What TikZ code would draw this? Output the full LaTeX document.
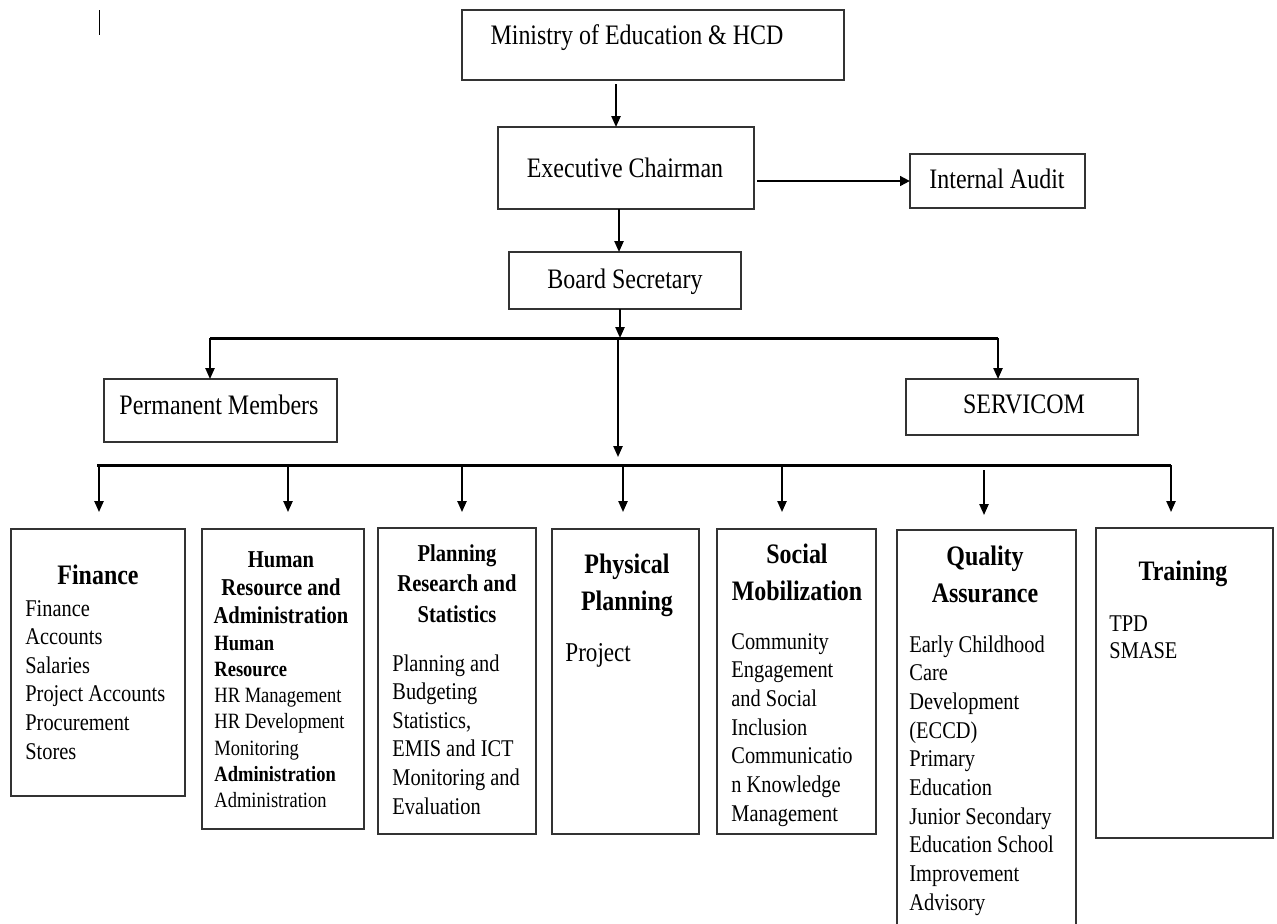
\documentclass[tikz,border=0pt]{standalone}
\usepackage{fontspec}
\setmainfont{Liberation Serif}[FakeStretch=0.85]
\usetikzlibrary{arrows.meta,fit}
\tikzset{
  box/.style={draw=black!80, line width=0.65pt, inner sep=0pt, outer sep=0pt},
  conn/.style={draw=black, line width=0.9pt, -{Triangle[length=5.5pt,width=4.6pt]}},
  thickconn/.style={draw=black, line width=1.4pt, -{Triangle[length=5pt,width=4.8pt]}},
  bar/.style={draw=black, line width=1.5pt},
  ttext/.style={font=\fontsize{14.1}{16}\selectfont, anchor=base, inner sep=0pt},
  hbig/.style={font=\fontsize{14.1}{16}\selectfont\bfseries, inner sep=0pt},
  hsmall/.style={font=\fontsize{12.1}{14}\selectfont\bfseries, inner sep=0pt},
  body/.style={font=\fontsize{12}{14}\selectfont, inner sep=0pt},
  bodyhr/.style={font=\fontsize{10.9}{13}\selectfont, inner sep=0pt},
  bodypp/.style={font=\fontsize{13.6}{15}\selectfont, inner sep=0pt},
}
\newcommand\mybox[5]{%
  \coordinate (#1-a) at (#2,#3);
  \coordinate (#1-b) at (#4,#5);
  \node[box, fit=(#1-a)(#1-b)] (#1) {};
}
\newcommand\deptlines[6]{%
  \foreach \t [count=\i] in {#6}
    \node[#5, anchor=base west] (#1-\i) at ({#2},{#3+(\i-1)*#4}) {\t};
}
\newcommand\headlines[6]{%
  \foreach \t [count=\i] in {#6}
    \node[#5, anchor=base] (#1-\i) at ({#2},{#3+(\i-1)*#4}) {\t};
}
\begin{document}
\begin{tikzpicture}[x=0.5pt,y=-0.5pt]
\useasboundingbox (0,0) rectangle (1277,923);
\clip (0,0) rectangle (1277,923);
\fill[white] (0,0) rectangle (1277,923);

% stray cursor mark
\coordinate (cur-a) at (99,10);
\coordinate (cur-b) at (99,35);
\draw[black, line width=0.5pt] (cur-a) -- (cur-b);

% top boxes
\mybox{min}{462}{10}{844}{80}
\mybox{exe}{498}{127}{754}{209}
\mybox{aud}{910}{154}{1085}{208}
\mybox{bsec}{509}{252}{741}{309}
\mybox{perm}{104}{379}{337}{442}
\mybox{serv}{906}{379}{1138}{435}

\node[ttext] (min-t) at (637,44) {Ministry of Education \& HCD};
\node[ttext] (exe-t) at (625,177) {Executive Chairman};
\node[ttext] (aud-t) at (997,188) {Internal Audit};
\node[ttext] (bsec-t) at (625,288) {Board Secretary};
\node[ttext] (perm-t) at (219,414) {Permanent Members};
\node[ttext] (serv-t) at (1024,413) {SERVICOM};

% department boxes
\mybox{fin}{11}{529}{185}{796}
\mybox{hr}{202}{529}{364}{829}
\mybox{prs}{378}{528}{536}{834}
\mybox{pp}{552}{529}{699}{834}
\mybox{soc}{717}{529}{876}{834}
\mybox{qa}{897}{530}{1076}{940}
\mybox{trn}{1096}{528}{1273}{838}

% connectors at top
\coordinate (x1) at (616,0);
\coordinate (x2) at (619,0);
\coordinate (x3) at (620,0);
\coordinate (ya) at (0,181);
\draw[conn, shorten <=2pt] (min.south -| x1) -- (exe.north -| x1);
\draw[thickconn, shorten <=1.5pt] (exe.east |- ya) -- (aud.west |- ya);
\draw[conn] (exe.south -| x2) -- (bsec.north -| x2);

% upper bar
\coordinate (tb-l) at (210,338);
\coordinate (tb-r) at (998,338);
\coordinate (tb-c) at (618,338);
\draw[conn] (bsec.south -| x3) -- (tb-c -| x3);
\draw[bar] (tb-l) -- (tb-r);
\draw[conn] (tb-l) -- (tb-l |- perm.north);
\draw[conn] (tb-r) -- (tb-r |- serv.north);

% lower bar
\coordinate (lb-l) at (97,465);
\coordinate (lb-r) at (1171,465);
\coordinate (lb-c) at (618,465);
\draw[conn, shorten >=4pt] (tb-c) -- (lb-c);
\draw[bar] (lb-l) -- (lb-r);

\coordinate (d1) at (99,465);
\coordinate (d2) at (288,465);
\coordinate (d3) at (462,465);
\coordinate (d4) at (623,465);
\coordinate (d5) at (782,465);
\coordinate (d6) at (984,470);
\coordinate (d7) at (1171,465);
\draw[conn, shorten >=8.5pt] (d1) -- (d1 |- fin.north);
\draw[conn, shorten >=8.5pt] (d2) -- (d2 |- hr.north);
\draw[conn, shorten >=8pt] (d3) -- (d3 |- prs.north);
\draw[conn, shorten >=8.5pt] (d4) -- (d4 |- pp.north);
\draw[conn, shorten >=8.5pt] (d5) -- (d5 |- soc.north);
\draw[conn, shorten >=7.5pt] (d6) -- (d6 |- qa.north);
\draw[conn, shorten >=8pt] (d7) -- (d7 |- trn.north);

% headings
\headlines{finh}{98}{584}{28}{hbig}{Finance}
\headlines{hrh}{281}{567}{28}{hsmall}{Human, Resource and, Administration}
\headlines{prsh}{457}{561}{30.5}{hsmall}{Planning, Research and, Statistics}
\headlines{pph}{627}{573}{37}{hbig}{Physical, Planning}
\headlines{soch}{797}{563}{37}{hbig}{Social, Mobilization}
\headlines{qah}{985}{565}{37}{hbig}{Quality, Assurance}
\headlines{trnh}{1183}{580}{28}{hbig}{Training}

% lists
\deptlines{finl}{25}{616}{28.6}{body}{Finance, Accounts, Salaries, Project Accounts, Procurement, Stores}
\deptlines{hrl}{214}{650}{26.3}{bodyhr}{{\bfseries Human}, {\bfseries Resource}, HR Management, HR Development, Monitoring, {\bfseries Administration}, Administration}
\deptlines{prsl}{392}{671}{28.6}{body}{Planning and, Budgeting, {Statistics,}, EMIS and ICT, Monitoring and, Evaluation}
\deptlines{ppl}{565}{661}{28}{bodypp}{Project}
\deptlines{socl}{731}{649}{28.7}{body}{Community, Engagement, and Social, Inclusion, Communicatio, n Knowledge, Management}
\deptlines{qal}{909}{652}{28.7}{body}{Early Childhood, Care, Development, {(ECCD)}, Primary, Education, Junior Secondary, Education School, Improvement, Advisory}
\deptlines{trnl}{1109}{631}{27}{body}{TPD, SMASE}
\end{tikzpicture}
\end{document}
